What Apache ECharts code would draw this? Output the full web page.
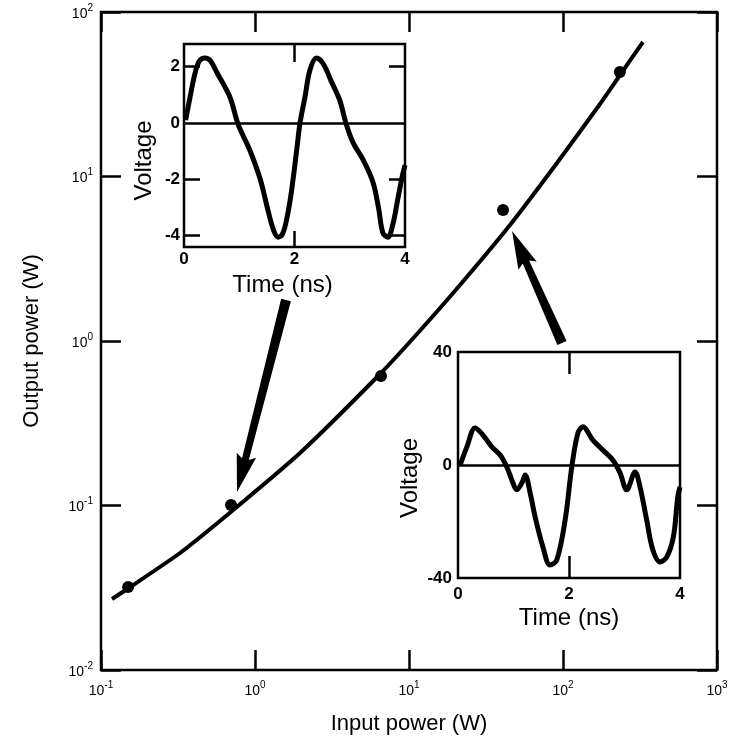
<!DOCTYPE html>
<html>
<head>
<meta charset="utf-8">
<title>Output power versus input power</title>
<script src="https://cdn.jsdelivr.net/npm/echarts@6/dist/echarts.min.js"></script>
<style>
  html, body { margin: 0; padding: 0; background: #fff; }
  #chart { width: 736px; height: 740px; }
</style>
</head>
<body>
<div id="chart"></div>
<script>
// Measured operating points (W)
const inputPower  = [0.150, 0.699, 6.58, 40.8, 234];
const outputPower = [0.0320, 0.1007, 0.6127, 6.26, 43.2];

// Fitted transfer curve (W)
const fitInput  = [0.1179, 0.1497, 0.3258, 0.7087, 1.960, 6.579, 11.27, 21.44, 45.27, 91.41, 173.9, 234.6, 330.7];
const fitOutput = [0.02702, 0.03129, 0.05143, 0.0926, 0.2085, 0.6389, 1.103, 2.190, 5.073, 12.08, 27.59, 41.41, 65.72];

// Output waveform at low drive (time in ns, voltage in V)
const lowTime    = [0.03, 0.11, 0.2, 0.28, 0.38, 0.48, 0.6, 0.83, 0.98, 1.19, 1.38, 1.52, 1.62, 1.7, 1.78, 1.86, 1.94, 2.04, 2.1, 2.19, 2.28, 2.4, 2.52, 2.66, 2.82, 2.93, 3.06, 3.24, 3.42, 3.52, 3.6, 3.69, 3.78, 3.87, 3.95, 4.0];
const lowVoltage = [0.1, 0.92, 1.77, 2.2, 2.3, 2.2, 1.77, 0.92, -0.05, -0.96, -2.0, -3.1, -3.8, -4.05, -3.95, -3.4, -2.5, -0.96, 0, 0.92, 1.88, 2.3, 2.1, 1.5, 0.8, 0, -0.7, -1.3, -2.1, -3.0, -3.9, -4.05, -3.6, -2.7, -1.9, -1.5];

// Output waveform at high drive (time in ns, voltage in V)
const highTime    = [0.04, 0.16, 0.31, 0.45, 0.61, 0.76, 0.88, 0.97, 1.06, 1.15, 1.21, 1.30, 1.39, 1.53, 1.66, 1.78, 1.93, 2.05, 2.16, 2.25, 2.43, 2.61, 2.79, 2.92, 3.04, 3.19, 3.28, 3.40, 3.51, 3.64, 3.76, 3.88, 3.96, 4.0];
const highVoltage = [0, 6.4, 13.1, 10.6, 6.4, 3.5, -0.7, -5.3, -8.8, -6.4, -3.5, -9.9, -18.4, -29, -35.4, -33.6, -19.5, -0.7, 11.3, 13.5, 8.8, 5.3, 1.8, -2.8, -8.8, -2.5, -7.8, -19.5, -30, -34.3, -32.6, -25.5, -11.3, -7.8];

// Arrows linking each waveform to its operating point (W)
const arrowTipIn   = [0.764, 46.7];
const arrowTipOut  = [0.1208, 4.67];
const arrowTailIn  = [1.590, 98.5];
const arrowTailOut = [1.775, 0.972];

// Tick positions and labels of the inset axes
const timeTicks      = [0, 2, 4];
const timeMarks      = [2];
const lowVoltLabels  = [-4, -2, 0, 2];
const lowVoltMarks   = [-4, -2, 2];
const highVoltLabels = [-40, 0, 40];

const FONT = '"Liberation Sans", Arial, Helvetica, sans-serif';
const INK = '#000';

function powerLabel(v) {
  const e = Math.round(Math.log10(v));
  return '{b|10}{s|' + e + '}';
}
const powerRich = {
  b: { fontSize: 14, fontFamily: FONT, color: INK, lineHeight: 18, verticalAlign: 'bottom' },
  s: { fontSize: 10, fontFamily: FONT, color: INK, lineHeight: 10, verticalAlign: 'top' }
};

function tickStyle(len, values) {
  const t = { show: true, inside: true, length: len, lineStyle: { color: INK, width: 2.5 } };
  if (values) t.customValues = values;
  return t;
}
const noLine = { show: false, onZero: false };
const noSplit = { show: false };

function renderArrow(params, api) {
  const tip = api.coord([api.value(0), api.value(1)]);
  const tail = api.coord([api.value(2), api.value(3)]);
  const dx = tip[0] - tail[0], dy = tip[1] - tail[1];
  const len = Math.hypot(dx, dy);
  const ux = dx / len, uy = dy / len;
  const nx = -uy, ny = ux;
  const headLen = 34, headHalf = 10, neckHalf = 3.5, tailHalf = 5;
  const base = [tip[0] - ux * headLen, tip[1] - uy * headLen];
  const pts = [
    [tail[0] + nx * tailHalf, tail[1] + ny * tailHalf],
    [base[0] + nx * neckHalf, base[1] + ny * neckHalf],
    [base[0] - ux * 4 + nx * headHalf, base[1] - uy * 4 + ny * headHalf],
    tip,
    [base[0] - ux * 4 - nx * headHalf, base[1] - uy * 4 - ny * headHalf],
    [base[0] - nx * neckHalf, base[1] - ny * neckHalf],
    [tail[0] - nx * tailHalf, tail[1] - ny * tailHalf]
  ];
  return { type: 'polygon', shape: { points: pts }, style: { fill: INK } };
}

const zeroLine = {
  silent: true,
  symbol: ['none', 'none'],
  label: { show: false },
  lineStyle: { color: INK, width: 2.5, type: 'solid' },
  data: [{ yAxis: 0 }]
};

const chart = echarts.init(document.getElementById('chart'), null, { renderer: 'canvas' });

chart.setOption({
  backgroundColor: '#fff',
  animation: false,
  textStyle: { fontFamily: FONT, color: INK },
  grid: [
    { left: 101, top: 12, width: 616, height: 658, show: true, borderColor: INK, borderWidth: 2.5, backgroundColor: 'transparent' },
    { left: 184, top: 44, width: 221, height: 203, show: true, borderColor: INK, borderWidth: 2.5, backgroundColor: '#fff' },
    { left: 458, top: 352, width: 222, height: 226, show: true, borderColor: INK, borderWidth: 2.5, backgroundColor: '#fff' }
  ],
  xAxis: [
    {
      gridIndex: 0, type: 'log', logBase: 10, min: 0.1, max: 1000,
      axisLine: noLine, splitLine: noSplit, axisTick: tickStyle(20),
      axisLabel: { margin: 10, formatter: powerLabel, rich: powerRich },
      name: 'Input power (W)', nameLocation: 'middle', nameGap: 43,
      nameTextStyle: { fontSize: 22, fontFamily: FONT, color: INK }
    },
    {
      gridIndex: 0, type: 'log', logBase: 10, min: 0.1, max: 1000, position: 'top',
      axisLine: noLine, splitLine: noSplit, axisTick: tickStyle(20), axisLabel: { show: false }
    },
    {
      gridIndex: 1, type: 'value', min: 0, max: 4, interval: 2, position: 'bottom',
      axisLine: noLine, splitLine: noSplit, axisTick: tickStyle(16, timeMarks),
      axisLabel: { margin: 4, fontSize: 17, fontWeight: 'bold', fontFamily: FONT, color: INK, customValues: timeTicks },
      name: 'Time (ns)', nameLocation: 'middle', nameGap: 26,
      nameTextStyle: { fontSize: 24, fontFamily: FONT, color: INK, padding: [0, 24, 0, 0] }
    },
    {
      gridIndex: 1, type: 'value', min: 0, max: 4, interval: 2, position: 'top',
      axisLine: noLine, splitLine: noSplit, axisTick: tickStyle(18, timeMarks), axisLabel: { show: false }
    },
    {
      gridIndex: 2, type: 'value', min: 0, max: 4, interval: 2, position: 'bottom',
      axisLine: noLine, splitLine: noSplit, axisTick: tickStyle(22, timeMarks),
      axisLabel: { margin: 8, fontSize: 17, fontWeight: 'bold', fontFamily: FONT, color: INK, customValues: timeTicks },
      name: 'Time (ns)', nameLocation: 'middle', nameGap: 28,
      nameTextStyle: { fontSize: 24, fontFamily: FONT, color: INK }
    },
    {
      gridIndex: 2, type: 'value', min: 0, max: 4, interval: 2, position: 'top',
      axisLine: noLine, splitLine: noSplit, axisTick: tickStyle(22, timeMarks), axisLabel: { show: false }
    }
  ],
  yAxis: [
    {
      gridIndex: 0, type: 'log', logBase: 10, min: 0.01, max: 100,
      axisLine: noLine, splitLine: noSplit, axisTick: tickStyle(20),
      axisLabel: { margin: 8, formatter: powerLabel, rich: powerRich },
      name: 'Output power (W)', nameLocation: 'middle', nameGap: 58,
      nameTextStyle: { fontSize: 22, fontFamily: FONT, color: INK }
    },
    {
      gridIndex: 0, type: 'log', logBase: 10, min: 0.01, max: 100, position: 'right',
      axisLine: noLine, splitLine: noSplit, axisTick: tickStyle(20), axisLabel: { show: false }
    },
    {
      gridIndex: 1, type: 'value', min: -4.4, max: 2.8, position: 'left',
      axisLine: noLine, splitLine: noSplit, axisTick: tickStyle(16, lowVoltMarks),
      axisLabel: { margin: 4, fontSize: 17, fontWeight: 'bold', fontFamily: FONT, color: INK, customValues: lowVoltLabels },
      name: 'Voltage', nameLocation: 'middle', nameGap: 28,
      nameTextStyle: { fontSize: 24, fontFamily: FONT, color: INK, padding: [0, 30, 0, 0] }
    },
    {
      gridIndex: 1, type: 'value', min: -4.4, max: 2.8, position: 'right',
      axisLine: noLine, splitLine: noSplit, axisTick: tickStyle(16, lowVoltMarks), axisLabel: { show: false }
    },
    {
      gridIndex: 2, type: 'value', min: -40, max: 40, interval: 40, position: 'left',
      axisLine: noLine, splitLine: noSplit, axisTick: { show: false },
      axisLabel: { margin: 6, fontSize: 17, fontWeight: 'bold', fontFamily: FONT, color: INK, customValues: highVoltLabels },
      name: 'Voltage', nameLocation: 'middle', nameGap: 36,
      nameTextStyle: { fontSize: 24, fontFamily: FONT, color: INK, padding: [0, 26, 0, 0] }
    }
  ],
  series: [
    {
      name: 'Fit', type: 'line', xAxisIndex: 0, yAxisIndex: 0,
      data: fitInput.map((x, i) => [x, fitOutput[i]]),
      smooth: 0.2, showSymbol: false, symbol: 'none',
      lineStyle: { color: INK, width: 4 }, z: 3
    },
    {
      name: 'Measured', type: 'scatter', xAxisIndex: 0, yAxisIndex: 0,
      data: inputPower.map((x, i) => [x, outputPower[i]]),
      symbol: 'circle', symbolSize: 12, itemStyle: { color: INK, opacity: 1 }, z: 4
    },
    {
      name: 'Arrows', type: 'custom', xAxisIndex: 0, yAxisIndex: 0,
      data: arrowTipIn.map((x, i) => [x, arrowTipOut[i], arrowTailIn[i], arrowTailOut[i]]),
      encode: { x: [0, 2], y: [1, 3] },
      renderItem: renderArrow, clip: false, silent: true, z: 5
    },
    {
      name: 'Low drive', type: 'line', xAxisIndex: 2, yAxisIndex: 2,
      data: lowTime.map((t, i) => [t, lowVoltage[i]]),
      smooth: 0.35, showSymbol: false, symbol: 'none',
      lineStyle: { color: INK, width: 5 }, markLine: zeroLine, z: 6
    },
    {
      name: 'High drive', type: 'line', xAxisIndex: 4, yAxisIndex: 4,
      data: highTime.map((t, i) => [t, highVoltage[i]]),
      smooth: 0.35, showSymbol: false, symbol: 'none',
      lineStyle: { color: INK, width: 5 }, markLine: zeroLine, z: 6
    }
  ]
});
</script>
</body>
</html>
